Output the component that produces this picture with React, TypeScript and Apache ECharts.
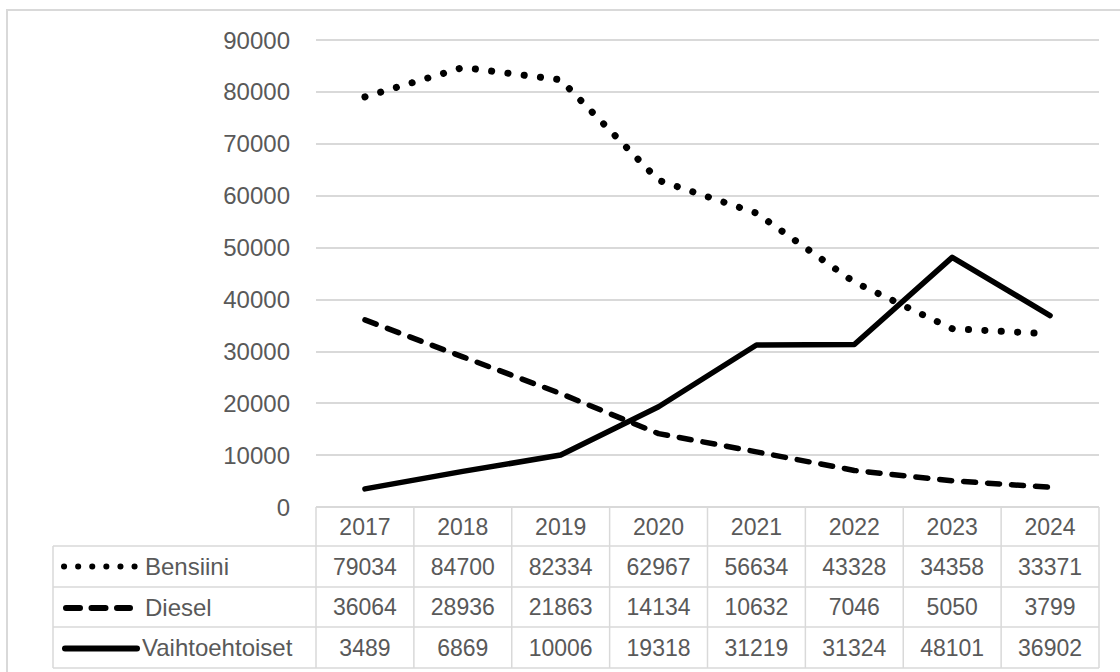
import React, { useEffect, useRef } from "react";
import * as echarts from "echarts";

const years = ["2017", "2018", "2019", "2020", "2021", "2022", "2023", "2024"];
const bensiini = [79034, 84700, 82334, 62967, 56634, 43328, 34358, 33371];
const diesel = [36064, 28936, 21863, 14134, 10632, 7046, 5050, 3799];
const vaihtoehtoiset = [3489, 6869, 10006, 19318, 31219, 31324, 48101, 36902];
const rowNames = ["Bensiini", "Diesel", "Vaihtoehtoiset"];
const yMin = 0;
const yMax = 90000;
const yStep = 10000;

const FONT = "'Liberation Sans', Arial, sans-serif";
const TXT = "#595959";
const BORDER = "#d9d9d9";

export default function App() {
  const ref = useRef<HTMLDivElement>(null);
  useEffect(() => {
    if (!ref.current) return;
    const chart = echarts.init(ref.current, undefined, { renderer: "svg" });
    const rows = [bensiini, diesel, vaihtoehtoiset];
    chart.setOption({
      animation: false,
      backgroundColor: "#ffffff",
      grid: { left: 316, right: 21, top: 40, bottom: 165 },
      xAxis: {
        type: "category",
        data: years,
        boundaryGap: true,
        axisLine: { show: false },
        axisTick: { show: false },
        axisLabel: { color: TXT, fontSize: 23, fontFamily: FONT, margin: 8, lineHeight: 24 },
        splitLine: { show: false },
      },
      yAxis: {
        type: "value",
        min: yMin,
        max: yMax,
        interval: yStep,
        axisLine: { show: false },
        axisTick: { show: false },
        axisLabel: {
          color: TXT,
          fontSize: 24,
          fontFamily: FONT,
          margin: 26,
          formatter: (v: number) => String(v),
        },
        splitLine: { lineStyle: { color: BORDER, width: 2 } },
      },
      series: [
        {
          name: rowNames[0],
          type: "line",
          data: bensiini,
          symbol: "none",
          lineStyle: { color: "#000", width: 7, type: [0.1, 16.3], cap: "round", join: "round" },
        },
        {
          name: rowNames[1],
          type: "line",
          data: diesel,
          symbol: "none",
          lineStyle: { color: "#000", width: 5.5, type: [12, 12], cap: "round", join: "round" },
        },
        {
          name: rowNames[2],
          type: "line",
          data: vaihtoehtoiset,
          symbol: "none",
          lineStyle: { color: "#000", width: 5.5, type: "solid", cap: "round", join: "round" },
        },
      ],
    });

    const xs = years.map((_, i) => chart.convertToPixel({ xAxisIndex: 0 }, i) as number);
    const cw = xs[1] - xs[0];
    const xStart = xs[0] - cw / 2;
    const xEnd = xs[xs.length - 1] + cw / 2;
    const top = chart.convertToPixel({ yAxisIndex: 0 }, 0) as number;
    const rowY = [top, 546, 587, 627, 668];
    const tableLeft = 53;
    const g: any[] = [];
    g.push({
      type: "rect",
      silent: true,
      z: -1,
      shape: { x: 7, y: 10, width: 1300, height: 900 },
      style: { fill: "none", stroke: BORDER, lineWidth: 2 },
    });
    const line = (x1: number, y1: number, x2: number, y2: number) =>
      g.push({
        type: "line",
        silent: true,
        shape: { x1, y1, x2, y2 },
        style: { stroke: BORDER, lineWidth: 1.5 },
      });
    line(xStart, rowY[0], xEnd, rowY[0]);
    for (let r = 1; r < rowY.length; r++) line(tableLeft, rowY[r], xEnd, rowY[r]);
    line(tableLeft, rowY[1], tableLeft, rowY[4]);
    for (let i = 0; i <= years.length; i++) {
      const x = xStart + i * cw;
      line(x, rowY[0], x, rowY[4]);
    }
    rows.forEach((vals, r) => {
      const cy = (rowY[r + 1] + rowY[r + 2]) / 2;
      vals.forEach((v, i) => {
        g.push({
          type: "text",
          silent: true,
          x: xs[i],
          y: cy,
          style: {
            text: String(v),
            fill: TXT,
            font: `23px ${FONT}`,
            align: "center",
            verticalAlign: "middle",
          },
        });
      });
      g.push({
        type: "text",
        silent: true,
        x: r === 2 ? 142 : 145,
        y: cy,
        style: {
          text: rowNames[r],
          fill: TXT,
          font: `24px ${FONT}`,
          align: "left",
          verticalAlign: "middle",
        },
      });
    });
    const keyY = [(rowY[1] + rowY[2]) / 2, (rowY[2] + rowY[3]) / 2 + 1, (rowY[3] + rowY[4]) / 2 + 1];
    g.push({
      type: "polyline",
      silent: true,
      shape: { points: [[64, keyY[0]], [135, keyY[0]]] },
      style: { stroke: "#000", lineWidth: 6, lineDash: [0.1, 14], lineCap: "round", fill: "none" },
    });
    g.push({
      type: "polyline",
      silent: true,
      shape: { points: [[66, keyY[1]], [130, keyY[1]]] },
      style: { stroke: "#000", lineWidth: 6, lineDash: [14, 11.5], lineCap: "round", fill: "none" },
    });
    g.push({
      type: "polyline",
      silent: true,
      shape: { points: [[65, keyY[2]], [137, keyY[2]]] },
      style: { stroke: "#000", lineWidth: 6, lineCap: "round", fill: "none" },
    });
    chart.setOption({ graphic: g });
    return () => chart.dispose();
  }, []);
  return (
    <div
      ref={ref}
      style={{ width: 1120, height: 672, position: "absolute", left: 0, top: 0 }}
    />
  );
}
